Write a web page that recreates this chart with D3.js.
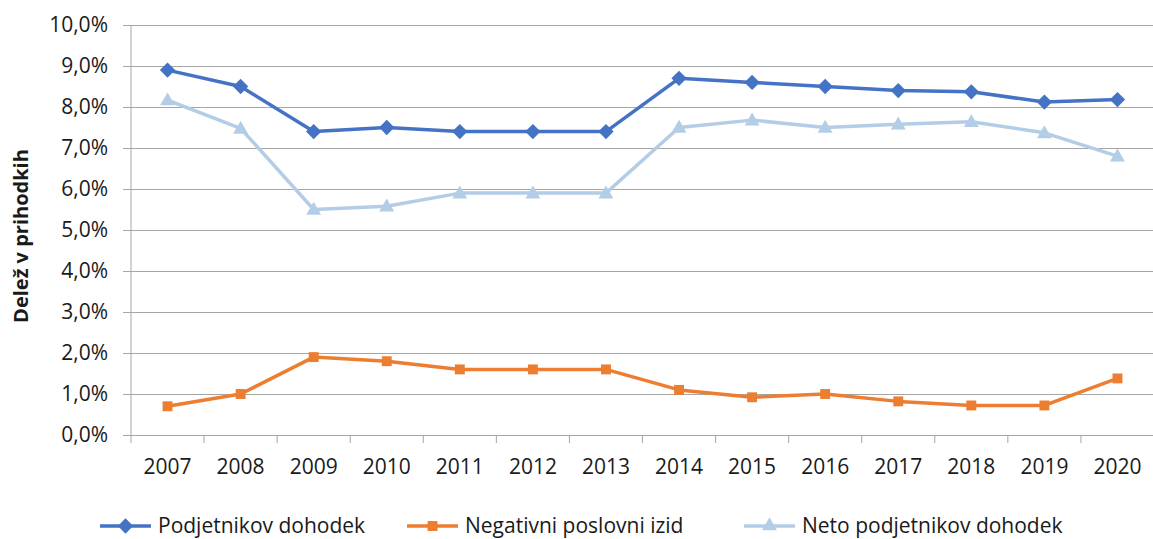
<html>
<script src="https://d3js.org/d3.v7.min.js"></script>
<style>
  body { margin: 0; background: #fff; }
  text { font-family: "Open Sans", "Noto Sans", sans-serif; fill: #1a1a1a; }
</style>
<body onload="init()">
<svg width="1153" height="539"></svg>
<script>
var years = ["2007","2008","2009","2010","2011","2012","2013","2014","2015","2016","2017","2018","2019","2020"];
var podjetnikov = [8.9, 8.5, 7.4, 7.5, 7.4, 7.4, 7.4, 8.7, 8.6, 8.5, 8.4, 8.37, 8.12, 8.18];
var negativni = [0.7, 1.0, 1.9, 1.8, 1.6, 1.6, 1.6, 1.1, 0.92, 1.0, 0.82, 0.72, 0.72, 1.38];
var neto = [8.17, 7.48, 5.5, 5.58, 5.9, 5.9, 5.9, 7.5, 7.68, 7.5, 7.58, 7.64, 7.37, 6.8];
var yTicks = [0, 1, 2, 3, 4, 5, 6, 7, 8, 9, 10];
var seriesNames = ["Podjetnikov dohodek", "Negativni poslovni izid", "Neto podjetnikov dohodek"];

function init() {
  var svg = d3.select("svg");
  var left = 131, right = 1154, top = 25, bottom = 435;

  var x = d3.scaleBand().domain(years).range([left, right]);
  var y = d3.scaleLinear().domain([0, 10]).range([bottom, top]);
  var fmt = function(d) { return d.toFixed(1).replace(".", ",") + "%"; };

  // gridlines + y labels
  var gy = svg.append("g").attr("transform", "translate(" + left + ",0)")
    .call(d3.axisLeft(y).tickValues(yTicks).tickFormat(fmt).tickSize(8).tickPadding(15));
  gy.select(".domain").remove();
  gy.selectAll(".tick line").attr("stroke", "#a6a6a6").attr("x2", right - left).attr("x1", -8);
  gy.selectAll(".tick text").style("font-size", "21px");

  svg.append("line").attr("x1", left).attr("x2", left).attr("y1", top).attr("y2", bottom)
    .attr("stroke", "#a6a6a6");

  // x axis: ticks at band edges
  var gx = svg.append("g").attr("transform", "translate(0," + bottom + ")")
    .call(d3.axisBottom(x).tickSize(0).tickPadding(24));
  gx.select(".domain").attr("stroke", "#a6a6a6");
  gx.selectAll(".tick text").style("font-size", "21px");
  var edges = years.map(function(d) { return x(d); }).concat([x(years[years.length - 1]) + x.bandwidth()]);
  gx.selectAll(".edge").data(edges).enter().append("line")
    .attr("x1", function(d) { return d; }).attr("x2", function(d) { return d; })
    .attr("y1", 0).attr("y2", 8).attr("stroke", "#a6a6a6");

  var cx = function(d, i) { return x(years[i]) + x.bandwidth() / 2; };
  var series = [
    { name: seriesNames[0], values: podjetnikov, color: "#4472c4", symbol: d3.symbolDiamond2, size: 150 },
    { name: seriesNames[1], values: negativni, color: "#ed7d31", symbol: d3.symbolSquare2, size: 125 },
    { name: seriesNames[2], values: neto, color: "#b4cde6", symbol: d3.symbolTriangle2, size: 160 }
  ];
  var line = d3.line().x(cx).y(function(d) { return y(d); });

  // neto behind, then the others
  [series[2], series[0], series[1]].forEach(function(s) {
    svg.append("path").datum(s.values).attr("d", line)
      .attr("fill", "none").attr("stroke", s.color).attr("stroke-width", 3.5)
      .attr("stroke-linejoin", "round");
    svg.selectAll(null).data(s.values).enter().append("path")
      .attr("d", d3.symbol().type(s.symbol).size(s.size))
      .attr("transform", function(d, i) {
        var dy = s.symbol === d3.symbolTriangle2 ? 1 : 0;
        return "translate(" + cx(d, i) + "," + (y(d) + dy) + ")";
      })
      .attr("fill", s.color);
  });

  // y axis title
  svg.append("text")
    .attr("transform", "translate(28," + ((top + bottom) / 2 + 6) + ") rotate(-90)")
    .attr("text-anchor", "middle")
    .style("font-size", "20px").style("font-weight", "bold")
    .text("Delež v prihodkih");

  // legend
  var legX = [100, 407, 744];
  var lg = svg.append("g");
  series.forEach(function(s, i) {
    var g = lg.append("g").attr("transform", "translate(" + legX[i] + ",526)");
    g.append("line").attr("x1", 0).attr("x2", 51).attr("stroke", s.color).attr("stroke-width", 3.5);
    g.append("path").attr("d", d3.symbol().type(s.symbol).size(s.size)).attr("transform", "translate(25.5,0)")
      .attr("fill", s.color);
    g.append("text").attr("x", 58).attr("y", 7).style("font-size", "21px").text(s.name);
  });
}
</script>
</body>
</html>
